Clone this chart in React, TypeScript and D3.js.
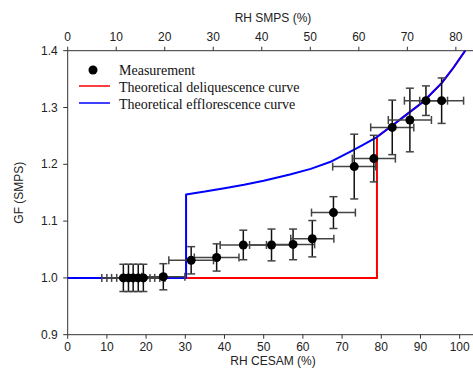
import * as d3 from 'd3'

// measurements (RH CESAM %, growth factor) with error bars
const measRH = [14.2, 15.5, 16.7, 18.0, 19.3, 24.4, 31.5, 38.0, 44.8, 52.0, 57.5, 62.4, 67.8, 73.1, 78.1, 82.8, 87.3, 91.4, 95.4]
const measGF = [1.0, 1.0, 1.0, 1.0, 1.0, 1.002, 1.031, 1.036, 1.058, 1.058, 1.059, 1.069, 1.115, 1.196, 1.21, 1.265, 1.278, 1.312, 1.312]
const measRHErr = [5.5, 5.5, 5.5, 5.5, 5.5, 5.5, 5.7, 5.7, 5.9, 5.6, 5.5, 5.5, 5.6, 5.5, 5.5, 5.5, 5.5, 5.5, 5.6]
const measGFErr = [0.024, 0.024, 0.024, 0.024, 0.024, 0.023, 0.024, 0.024, 0.026, 0.028, 0.027, 0.032, 0.028, 0.057, 0.041, 0.048, 0.056, 0.026, 0.04]

// theoretical curves
const deliqRH = [0, 78.9, 78.9, 83.9, 85.6, 90.7, 95.4, 98.4, 101.4]
const deliqGF = [1.0, 1.0, 1.248, 1.274, 1.283, 1.31, 1.343, 1.37, 1.4]
const effloRH = [0, 30.2, 30.2, 35, 40, 45, 50, 56.7, 62, 66.9, 72, 75, 78.9, 83.9, 85.6, 90.7, 95.4, 98.4, 101.4]
const effloGF = [1.0, 1.0, 1.147, 1.152, 1.158, 1.164, 1.171, 1.182, 1.192, 1.204, 1.222, 1.233, 1.248, 1.274, 1.283, 1.31, 1.343, 1.37, 1.4]

const bottomTicks = [0, 10, 20, 30, 40, 50, 60, 70, 80, 90, 100]
const topTicks = [0, 10, 20, 30, 40, 50, 60, 70, 80]
const yTicks = [0.9, 1.0, 1.1, 1.2, 1.3, 1.4]

const legendItems = ['Measurement', 'Theoretical deliquescence curve', 'Theoretical efflorescence curve']

const dims = {
  width: 473,
  height: 379,
  left: 67.7,
  right: 472.6,
  top: 50.7,
  bottom: 334.7,
}

const axisColor = '#333'
const tickFont = { fontFamily: 'Arial, "Liberation Sans", sans-serif', fontSize: '12px', fill: '#222' }

export default function App() {
  const x = d3.scaleLinear().domain([0, 103.3]).range([dims.left, dims.right])
  const xTop = d3.scaleLinear().domain([0, 83.45]).range([dims.left, dims.right])
  const y = d3.scaleLinear().domain([0.9, 1.4]).range([dims.bottom, dims.top])

  const line = d3
    .line<[number, number]>()
    .x((d) => x(d[0]))
    .y((d) => y(d[1]))

  const deliq = deliqRH.map((r, i) => [r, deliqGF[i]] as [number, number])
  const efflo = effloRH.map((r, i) => [r, effloGF[i]] as [number, number])
  const cap = 4

  return (
    <svg
      width={dims.width}
      height={dims.height}
      style={{ position: 'absolute', left: 0, top: 0, background: 'white' }}
    >
      {/* axes */}
      <g stroke={axisColor} strokeWidth={1} fill="none">
        <line x1={dims.left} x2={dims.left} y1={dims.top} y2={dims.bottom} />
        <line x1={dims.left} x2={dims.width} y1={dims.bottom} y2={dims.bottom} />
        <line x1={dims.left} x2={dims.width} y1={dims.top} y2={dims.top} />
        {bottomTicks.map((t) => (
          <line key={'b' + t} x1={x(t)} x2={x(t)} y1={dims.bottom} y2={dims.bottom + 4} />
        ))}
        {topTicks.map((t) => (
          <line key={'t' + t} x1={xTop(t)} x2={xTop(t)} y1={dims.top} y2={dims.top - 4} />
        ))}
        {yTicks.map((t) => (
          <line key={'y' + t} x1={dims.left - 4.5} x2={dims.left} y1={y(t)} y2={y(t)} />
        ))}
      </g>
      <g style={tickFont}>
        {bottomTicks.map((t) => (
          <text key={'bl' + t} x={x(t)} y={dims.bottom + 16} textAnchor="middle">
            {t}
          </text>
        ))}
        {topTicks.map((t) => (
          <text key={'tl' + t} x={xTop(t)} y={dims.top - 10} textAnchor="middle">
            {t}
          </text>
        ))}
        {yTicks.map((t) => (
          <text key={'yl' + t} x={dims.left - 10} y={y(t) + 4} textAnchor="end">
            {t.toFixed(1)}
          </text>
        ))}
        <text x={273} y={365} textAnchor="middle">RH CESAM (%)</text>
        <text x={273} y={22} textAnchor="middle">RH SMPS (%)</text>
        <text transform={`translate(23, ${(dims.top + dims.bottom) / 2}) rotate(-90)`} textAnchor="middle">
          GF (SMPS)
        </text>
      </g>

      {/* curves */}
      <path d={line(deliq) ?? ''} fill="none" stroke="#ff0000" strokeWidth={2} />
      <path d={line(efflo) ?? ''} fill="none" stroke="#0000ff" strokeWidth={2} strokeLinejoin="round" />

      {/* error bars */}
      <g stroke="#444" strokeWidth={1.5}>
        {measRH.map((r, i) => {
          const cx = x(r)
          const cy = y(measGF[i])
          const x0 = x(r - measRHErr[i])
          const x1 = x(r + measRHErr[i])
          const y0 = y(measGF[i] - measGFErr[i])
          const y1 = y(measGF[i] + measGFErr[i])
          return (
            <g key={'e' + i}>
              <line x1={x0} x2={x1} y1={cy} y2={cy} />
              <line x1={x0} x2={x0} y1={cy - cap} y2={cy + cap} />
              <line x1={x1} x2={x1} y1={cy - cap} y2={cy + cap} />
              <line x1={cx} x2={cx} y1={y0} y2={y1} stroke="#111" />
              <line x1={cx - cap} x2={cx + cap} y1={y0} y2={y0} />
              <line x1={cx - cap} x2={cx + cap} y1={y1} y2={y1} />
            </g>
          )
        })}
      </g>
      {measRH.map((r, i) => (
        <circle key={'p' + i} cx={x(r)} cy={y(measGF[i])} r={4.5} fill="black" />
      ))}

      {/* legend */}
      <g style={{ fontFamily: '"Times New Roman", "Liberation Serif", serif', fontSize: '14px', fill: '#111' }}>
        <circle cx={93} cy={70} r={4.5} fill="black" />
        <line x1={79} x2={110} y1={86} y2={86} stroke="#ff0000" strokeWidth={1.5} />
        <line x1={79} x2={110} y1={103} y2={103} stroke="#0000ff" strokeWidth={1.5} />
        {legendItems.map((label, i) => (
          <text key={label} x={119} y={74.5 + i * 17}>
            {label}
          </text>
        ))}
      </g>
    </svg>
  )
}
